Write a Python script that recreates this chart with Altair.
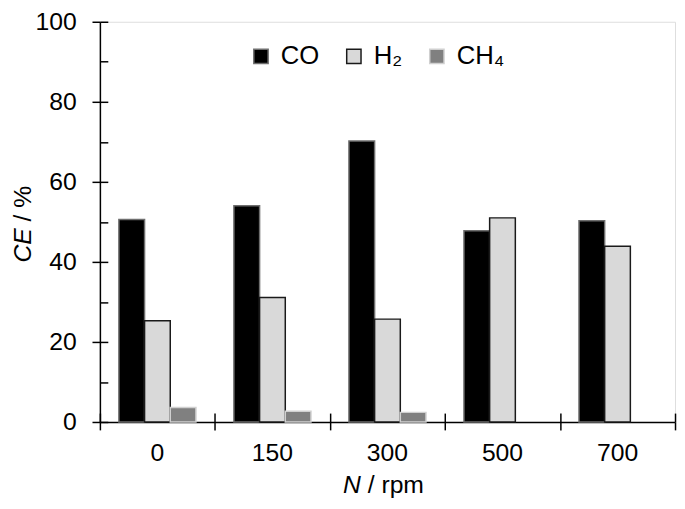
import altair as alt
import pandas as pd

# ---- data ----
rpm_labels = ["0", "150", "300", "500", "700"]
gases = ["CO", "H₂", "CH₄"]
co_values = [50.6, 54.0, 70.2, 47.8, 50.3]
h2_values = [25.3, 31.1, 25.7, 51.0, 43.9]
ch4_values = [3.6, 2.7, 2.4, None, None]
y_major_ticks = [0, 20, 40, 60, 80, 100]
y_minor_ticks = [0, 10, 20, 30, 40, 50, 60, 70, 80, 90, 100]
band_edges = [0, 1, 2, 3, 4, 5]

rows = []
for i, r in enumerate(rpm_labels):
    for g, vals in zip(gases, [co_values, h2_values, ch4_values]):
        if vals[i] is not None:
            rows.append({"rpm": r, "gas": g, "ce": vals[i]})
df = pd.DataFrame(rows)
edges = pd.DataFrame({"b": band_edges})
one = pd.DataFrame({"a": [1]})

W, H = 582, 405
FONT = "Liberation Sans"
fills = ["#000000", "#d9d9d9", "#808080"]
strokes = ["#6e6e6e", "#1a1a1a", "#d0d0d0"]

xs = alt.Scale(domain=rpm_labels, paddingInner=0.33, paddingOuter=0.165)
ys = alt.Scale(domain=[0, 100], nice=False)

leg = alt.Legend(
    orient="none", legendX=150, legendY=22, direction="horizontal", title=None,
    symbolType="square", symbolSize=210, symbolStrokeWidth=1.5,
    labelFontSize=26, labelFont=FONT, labelColor="black", labelOffset=7,
    columnPadding=22, padding=0, symbolOpacity=1,
)

bars = alt.Chart(df).mark_bar(strokeWidth=1.5).encode(
    x=alt.X("rpm:N", sort=rpm_labels, scale=xs,
            axis=alt.Axis(orient="bottom", ticks=False, tickSize=0, labelPadding=19,
                          labelAngle=0, title=None, domainColor="black", domainWidth=1.5,
                          labelFontSize=25, labelFont=FONT, labelColor="black", grid=False)),
    xOffset=alt.XOffset("gas:N", sort=gases,
                        scale=alt.Scale(domain=gases, paddingInner=0, paddingOuter=0)),
    y=alt.Y("ce:Q", scale=ys, stack=None,
            axis=alt.Axis(orient="left", values=y_major_ticks, tickSize=8, tickWidth=1.5,
                          tickColor="black", labelPadding=16, domainColor="black",
                          domainWidth=1.5, grid=False, title=None, labelFontSize=25,
                          labelFont=FONT, labelColor="black")),
    color=alt.Color("gas:N", sort=gases, scale=alt.Scale(domain=gases, range=fills), legend=leg),
    stroke=alt.Stroke("gas:N", sort=gases, scale=alt.Scale(domain=gases, range=strokes), legend=leg),
)

inner = alt.Chart(df).mark_bar(opacity=0).encode(
    x=alt.X("rpm:N", sort=rpm_labels, scale=xs,
            axis=alt.Axis(orient="top", offset=-H, tickSize=7, tickWidth=1.5, tickColor="black",
                          labels=False, domain=False, grid=False, title=None, bandPosition=0.5)),
    y=alt.Y("ce:Q", scale=ys, stack=None,
            axis=alt.Axis(orient="right", offset=-W, values=y_minor_ticks, tickSize=8,
                          tickWidth=1.5, tickColor="black", labels=False, domain=False,
                          grid=False, title=None)),
)

edge_scale = alt.Scale(domain=[0, 5], nice=False, zero=False)
edge_out = alt.Chart(edges).mark_rule(opacity=0).encode(
    x=alt.X("b:Q", scale=edge_scale,
            axis=alt.Axis(orient="bottom", values=band_edges, tickSize=8, tickWidth=1.5,
                          tickColor="black", labels=False, domain=False, grid=False, title=None)),
)
edge_in = alt.Chart(edges).mark_rule(opacity=0).encode(
    x=alt.X("b:Q", scale=edge_scale,
            axis=alt.Axis(orient="top", offset=-H, values=band_edges, tickSize=9, tickWidth=1.5,
                          tickColor="black", labels=False, domain=False, grid=False, title=None)),
)

# axis titles with italic symbols
yt1 = alt.Chart(one).mark_text(font=FONT, fontSize=25, fontStyle="italic", angle=270,
                                align="right", baseline="middle", color="black").encode(
    x=alt.value(-78), y=alt.value(209), text=alt.value("CE"))
yt2 = alt.Chart(one).mark_text(font=FONT, fontSize=25, angle=270,
                                align="left", baseline="middle", color="black").encode(
    x=alt.value(-78), y=alt.value(202), text=alt.value("/ %"))
xt1 = alt.Chart(one).mark_text(font=FONT, fontSize=25, fontStyle="italic",
                                align="right", baseline="middle", color="black").encode(
    x=alt.value(264), y=alt.value(469), text=alt.value("N"))
xt2 = alt.Chart(one).mark_text(font=FONT, fontSize=25,
                                align="left", baseline="middle", color="black").encode(
    x=alt.value(271), y=alt.value(469), text=alt.value("/ rpm"))

chart = alt.layer(bars, inner, edge_out, edge_in, yt1, yt2, xt1, xt2).resolve_scale(
    x="independent", y="independent"
).properties(
    width=W, height=H,
    padding={"left": 93, "top": 11, "right": 2, "bottom": 74},
    autosize=alt.AutoSizeParams(type="none"),
).configure_view(stroke=None).configure(background="white")

chart.save("out.html", embed_options={"renderer": "svg", "actions": False})
